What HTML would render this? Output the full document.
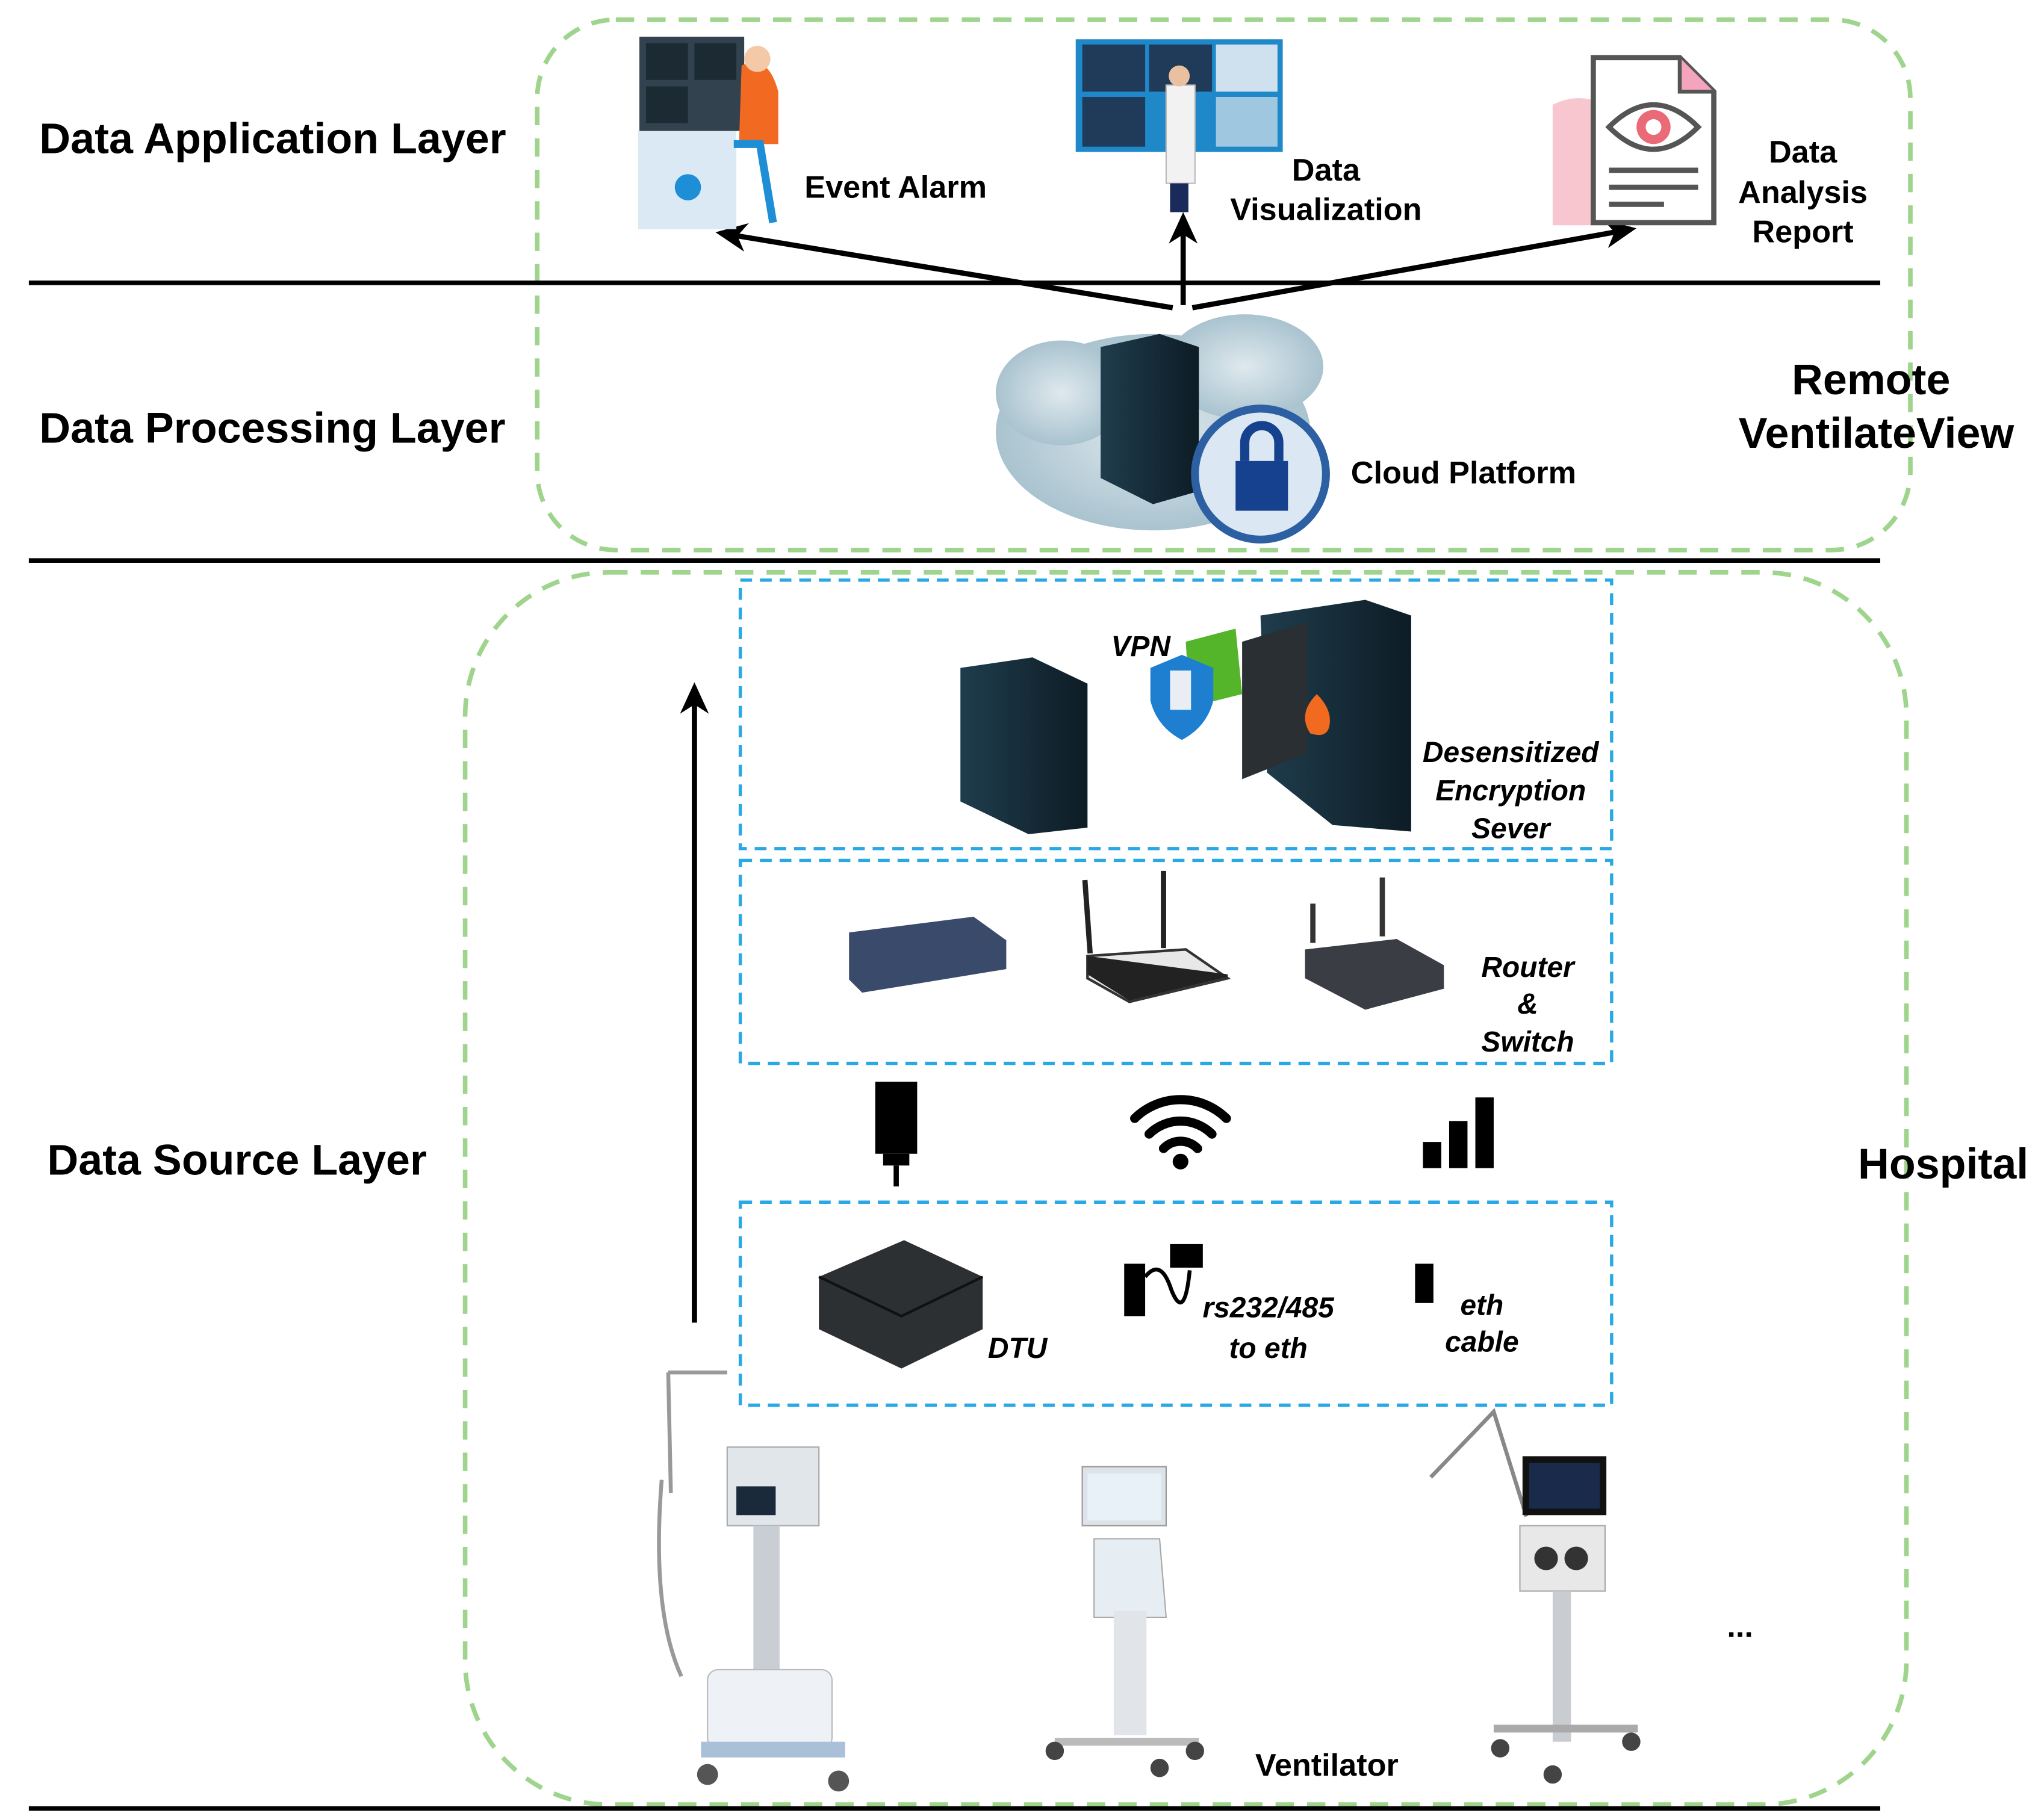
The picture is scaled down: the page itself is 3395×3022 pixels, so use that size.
<!DOCTYPE html>
<html><head><meta charset="utf-8"><style>html,body{margin:0;padding:0;background:#fff}svg{display:block}</style></head>
<body>
<svg width="3395" height="3022" viewBox="0 0 1560 1389" preserveAspectRatio="none" xmlns="http://www.w3.org/2000/svg" font-family="Liberation Sans, Arial, sans-serif">
<defs>
<marker id="ah" markerWidth="26" markerHeight="22" refX="20" refY="11" orient="auto" markerUnits="userSpaceOnUse" viewBox="0 0 26 22"><path d="M0,0 L24,11 L0,22 L7,11 z" fill="#000"/></marker>
<linearGradient id="srv" x1="0" x2="1"><stop offset="0" stop-color="#1f3d4d"/><stop offset="1" stop-color="#0d1c25"/></linearGradient>
<radialGradient id="cl"><stop offset="0" stop-color="#dfe9ee"/><stop offset="1" stop-color="#a9c3cf"/></radialGradient>
</defs>
<rect width="1560" height="1389" fill="#fff"/>
<rect x="410" y="15" width="1048" height="405" rx="60" fill="none" stroke="#9ed48c" stroke-width="3.5" stroke-dasharray="14 10"/>
<rect x="355" y="437" width="1100" height="941" rx="110" fill="none" stroke="#9ed48c" stroke-width="3.5" stroke-dasharray="14 10"/>
<line x1="22" y1="216" x2="1435" y2="216" stroke="#000" stroke-width="3.5"/>
<line x1="22" y1="428" x2="1435" y2="428" stroke="#000" stroke-width="3.5"/>
<line x1="22" y1="1381" x2="1435" y2="1381" stroke="#000" stroke-width="3.5"/>
<g fill="none" stroke="#2aa8e6" stroke-width="2.5" stroke-dasharray="9 6">
<rect x="565" y="443" width="665" height="205"/>
<rect x="565" y="657" width="665" height="155"/>
<rect x="565" y="918" width="665" height="155"/>
</g>
<g stroke="#000" stroke-width="4" fill="none" marker-end="url(#ah)">
<line x1="895" y1="235" x2="550" y2="178"/>
<line x1="903" y1="233" x2="903" y2="166"/>
<line x1="910" y1="235" x2="1245" y2="175"/>
<line x1="530" y1="1010" x2="530" y2="525"/>
</g>
<g font-weight="bold" font-size="33" fill="#000">
<text x="30" y="117">Data Application Layer</text>
<text x="30" y="338">Data Processing Layer</text>
<text x="36" y="897">Data Source Layer</text>
<text x="1428" y="301" text-anchor="middle">Remote</text>
<text x="1432" y="342" text-anchor="middle">VentilateView</text>
<text x="1418" y="900">Hospital</text>
</g>
<g font-weight="bold" font-size="24" fill="#000">
<text x="614" y="151">Event Alarm</text>
<text x="1012" y="138" text-anchor="middle">Data</text>
<text x="1012" y="168" text-anchor="middle">Visualization</text>
<text x="1376" y="124" text-anchor="middle">Data</text>
<text x="1376" y="155" text-anchor="middle">Analysis</text>
<text x="1376" y="185" text-anchor="middle">Report</text>
<text x="1031" y="369">Cloud Platform</text>
<text x="958" y="1356">Ventilator</text>
<text x="1318" y="1250">...</text>
</g>
<g font-weight="bold" font-style="italic" font-size="22" fill="#000">
<text x="848" y="501">VPN</text>
<text x="1153" y="582" text-anchor="middle">Desensitized</text>
<text x="1153" y="611" text-anchor="middle">Encryption</text>
<text x="1153" y="640" text-anchor="middle">Sever</text>
<text x="1166" y="746" text-anchor="middle">Router</text>
<text x="1166" y="774" text-anchor="middle">&amp;</text>
<text x="1166" y="803" text-anchor="middle">Switch</text>
<text x="754" y="1037">DTU</text>
<text x="968" y="1006" text-anchor="middle">rs232/485</text>
<text x="968" y="1037" text-anchor="middle">to eth</text>
<text x="1131" y="1004" text-anchor="middle">eth</text>
<text x="1131" y="1032" text-anchor="middle">cable</text>
</g>
<rect x="487" y="100" width="75" height="75" fill="#dbe9f5"/>
<rect x="488" y="28" width="80" height="72" fill="#33424f"/>
<rect x="493" y="33" width="32" height="28" fill="#1c2a33"/><rect x="530" y="33" width="32" height="28" fill="#1c2a33"/>
<rect x="493" y="66" width="32" height="28" fill="#1c2a33"/>
<circle cx="525" cy="143" r="10" fill="#1e8ed6"/>
<path d="M566 50 q20 -10 28 20 l0 40 l-30 0 z" fill="#f26a22"/>
<circle cx="578" cy="45" r="10" fill="#f4c9a8"/>
<path d="M560 110 l20 0 l10 60" stroke="#1e8ed6" stroke-width="6" fill="none"/>
<rect x="821" y="30" width="158" height="86" fill="#1e88c8"/>
<rect x="826" y="34" width="48" height="36" fill="#203a5a"/><rect x="877" y="34" width="48" height="36" fill="#203a5a"/><rect x="928" y="34" width="47" height="36" fill="#cfe0ee"/>
<rect x="826" y="74" width="48" height="38" fill="#203a5a"/><rect x="928" y="74" width="47" height="38" fill="#9fc7df"/>
<rect x="890" y="65" width="22" height="75" fill="#f2f2f2" stroke="#bbb"/>
<circle cx="900" cy="58" r="8" fill="#e9c1a0"/>
<rect x="893" y="140" width="14" height="22" fill="#1a2a5a"/>
<path d="M1185 80 q20 -10 40 0 l0 92 l-40 0 z" fill="#f8c6cf"/>
<path d="M1216 44 l66 0 l26 26 l0 100 l-92 0 z" fill="#fff" stroke="#555" stroke-width="4"/>
<path d="M1282 44 l0 26 l26 0" fill="#f4a4bd" stroke="#555" stroke-width="3"/>
<path d="M1228 97 q34 -34 68 0 q-34 34 -68 0 z" fill="#fff" stroke="#555" stroke-width="4"/>
<circle cx="1262" cy="97" r="13" fill="#ea6a78"/><circle cx="1262" cy="97" r="6" fill="#fff"/>
<g stroke="#555" stroke-width="4"><line x1="1228" y1="130" x2="1296" y2="130"/><line x1="1228" y1="143" x2="1296" y2="143"/><line x1="1228" y1="156" x2="1270" y2="156"/></g>
<ellipse cx="880" cy="330" rx="120" ry="75" fill="url(#cl)"/>
<ellipse cx="810" cy="300" rx="50" ry="40" fill="url(#cl)"/>
<ellipse cx="950" cy="280" rx="60" ry="40" fill="url(#cl)"/>
<path d="M840 265 l45 -10 l30 10 l0 110 l-35 10 l-40 -20 z" fill="url(#srv)"/>
<circle cx="962" cy="362" r="50" fill="#dbe8f3" stroke="#2d5fa3" stroke-width="6"/>
<rect x="943" y="352" width="40" height="38" fill="#15418f"/>
<path d="M950 352 l0 -14 a13 13 0 0 1 26 0 l0 14" stroke="#15418f" stroke-width="7" fill="none"/>
<path d="M733 510 l55 -8 l42 20 l0 110 l-45 5 l-52 -25 z" fill="url(#srv)"/>
<path d="M962 470 l80 -12 l35 12 l0 165 l-60 -5 l-50 -40 z" fill="url(#srv)"/>
<path d="M948 490 l50 -15 l0 100 l-50 20 z" fill="#2a2f33"/>
<path d="M1005 530 q-15 15 -5 30 q15 5 15 -10 q0 -10 -10 -20z" fill="#f26a1f"/>
<path d="M905 490 l38 -10 l5 50 l-40 10 z" fill="#55b52a"/>
<path d="M878 510 l24 -10 l24 10 l0 25 q-5 20 -24 30 q-19 -10 -24 -30 z" fill="#1e7fd0"/>
<rect x="893" y="512" width="16" height="30" fill="#e8eef4"/>
<path d="M648 712 l95 -12 l25 18 l0 22 l-110 18 l-10 -10 z" fill="#3a4a6a"/>
<path d="M830 730 l75 -5 l32 22 l-75 18 l-32 -18 z" fill="#e8e8e8" stroke="#333" stroke-width="2"/>
<path d="M830 730 l0 14 l32 20 l75 -18 l0 -2" fill="#222"/>
<line x1="832" y1="728" x2="828" y2="672" stroke="#222" stroke-width="4"/><line x1="888" y1="724" x2="888" y2="665" stroke="#222" stroke-width="4"/>
<path d="M996 725 l70 -8 l36 20 l0 18 l-60 16 l-46 -24 z" fill="#3a3e44"/>
<line x1="1002" y1="720" x2="1002" y2="690" stroke="#333" stroke-width="4"/><line x1="1055" y1="715" x2="1055" y2="670" stroke="#333" stroke-width="4"/>
<rect x="668" y="826" width="32" height="55" fill="#000"/>
<rect x="674" y="881" width="20" height="9" fill="#000"/><line x1="684" y1="890" x2="684" y2="906" stroke="#000" stroke-width="4"/>
<g fill="none" stroke="#000" stroke-width="7" stroke-linecap="round">
<path d="M866 854 a50 50 0 0 1 70 0"/><path d="M877 866 a34 34 0 0 1 48 0"/><path d="M888 877 a18 18 0 0 1 26 0"/>
</g>
<circle cx="901" cy="887" r="6" fill="#000"/>
<rect x="1086" y="872" width="14" height="20" fill="#000"/><rect x="1106" y="856" width="14" height="36" fill="#000"/><rect x="1126" y="838" width="14" height="54" fill="#000"/>
<path d="M625 975 l65 -28 l60 28 l0 40 l-62 30 l-63 -30 z" fill="#2d3033"/>
<path d="M625 975 l63 30 l62 -30" fill="none" stroke="#111" stroke-width="2"/>
<rect x="858" y="965" width="16" height="40" fill="#000"/>
<path d="M874 975 q12 -15 20 10 q10 25 14 -15" stroke="#000" stroke-width="3" fill="none"/>
<rect x="893" y="950" width="25" height="18" fill="#000"/>
<rect x="1080" y="965" width="14" height="30" fill="#000"/>
<g fill="none" stroke="#999" stroke-width="3">
<line x1="510" y1="1048" x2="555" y2="1048"/><line x1="510" y1="1048" x2="512" y2="1140"/>
<path d="M505 1130 q-8 100 15 150"/>
</g>
<rect x="555" y="1105" width="70" height="60" fill="#e0e6ea" stroke="#aaa"/><rect x="562" y="1135" width="30" height="22" fill="#1a2a3a"/>
<rect x="575" y="1165" width="20" height="120" fill="#c8ced3"/>
<rect x="540" y="1275" width="95" height="60" rx="8" fill="#eef2f6" stroke="#bbb"/>
<rect x="535" y="1330" width="110" height="12" fill="#aac0d8"/>
<circle cx="540" cy="1355" r="8" fill="#555"/><circle cx="640" cy="1360" r="8" fill="#555"/>
<rect x="826" y="1120" width="64" height="45" fill="#dce4ea" stroke="#999"/><rect x="830" y="1125" width="56" height="36" fill="#e8f0f8"/>
<path d="M835 1175 l50 0 l5 60 l-55 0 z" fill="#e6eef3" stroke="#aaa"/>
<rect x="850" y="1230" width="25" height="95" fill="#e1e5e9"/>
<line x1="805" y1="1330" x2="915" y2="1330" stroke="#bbb" stroke-width="6"/>
<circle cx="805" cy="1337" r="7" fill="#444"/><circle cx="912" cy="1337" r="7" fill="#444"/><circle cx="885" cy="1350" r="7" fill="#444"/>
<path d="M1092 1128 l48 -50 l25 80" fill="none" stroke="#888" stroke-width="3"/>
<rect x="1162" y="1112" width="64" height="45" fill="#111"/><rect x="1167" y="1117" width="54" height="35" fill="#1a2a4a"/>
<rect x="1160" y="1165" width="65" height="50" fill="#e8e8e8" stroke="#aaa"/>
<circle cx="1180" cy="1190" r="9" fill="#333"/><circle cx="1203" cy="1190" r="9" fill="#333"/>
<rect x="1185" y="1215" width="14" height="115" fill="#c9ccd0"/>
<line x1="1140" y1="1320" x2="1250" y2="1320" stroke="#aaa" stroke-width="6"/>
<circle cx="1145" cy="1335" r="7" fill="#444"/><circle cx="1245" cy="1330" r="7" fill="#444"/><circle cx="1185" cy="1355" r="7" fill="#444"/>
</svg>
</body></html>
